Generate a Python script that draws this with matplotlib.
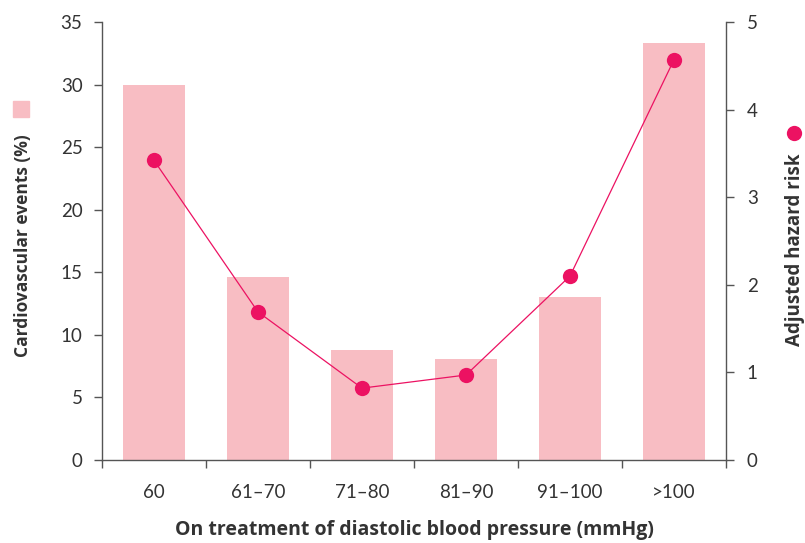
import matplotlib
matplotlib.use("Agg")
import matplotlib.pyplot as plt
from matplotlib.ticker import FixedLocator, NullFormatter

plt.rcParams['font.family'] = ['Lato', 'DejaVu Sans']

categories = ["60", "61\u201370", "71\u201380", "81\u201390", "91\u2013100", ">100"]
events_pct = [30.0, 14.6, 8.8, 8.1, 13.0, 33.3]
hazard_risk = [3.42, 1.69, 0.82, 0.97, 2.10, 4.57]

bar_color = "#F8BDC3"
dot_color = "#EC1262"
axis_color = "#555555"
text_color = "#333333"
bold_font = ['Open Sans', 'DejaVu Sans']

fig = plt.figure(figsize=(8.05, 5.43), dpi=100)
ax = fig.add_axes([0.1267, 0.1529, 0.9019 - 0.1267, 0.9595 - 0.1529])
x = list(range(len(categories)))

ax.bar(x, events_pct, width=0.59, color=bar_color, zorder=1)
ax.set_xlim(-0.5, len(categories) - 0.5)
ax.set_ylim(0, 35)
ax.set_yticks([0, 5, 10, 15, 20, 25, 30, 35])

ax2 = ax.twinx()
ax2.plot(x, hazard_risk, color=dot_color, linewidth=0.9, marker="o",
         markersize=11, markeredgewidth=0, zorder=3)
ax2.set_ylim(0, 5)
ax2.set_yticks([0, 1, 2, 3, 4, 5])

# category labels centred, tick marks on the boundaries
ax.set_xticks(x)
ax.set_xticklabels(categories)
ax.tick_params(axis="x", which="major", length=0, pad=17, labelsize=13.5, labelcolor=text_color)
ax.xaxis.set_minor_locator(FixedLocator([i - 0.5 for i in range(len(categories) + 1)]))
ax.xaxis.set_minor_formatter(NullFormatter())
ax.tick_params(axis="x", which="minor", length=6, width=1, color=axis_color, direction="out")

ax.tick_params(axis="y", length=6, width=1, color=axis_color, pad=8, labelsize=13.5, labelcolor=text_color)
ax2.tick_params(axis="y", length=6, width=1, color=axis_color, pad=9, labelsize=13.5, labelcolor=text_color)

for a in (ax, ax2):
    a.spines["top"].set_visible(False)
    for s in ("left", "right", "bottom"):
        a.spines[s].set_color(axis_color)
        a.spines[s].set_linewidth(1)
ax.spines["right"].set_visible(False)
ax2.spines["left"].set_visible(False)
ax2.spines["bottom"].set_visible(False)

fig.text(414 / 805, 1 - 530 / 543, "On treatment of diastolic blood pressure (mmHg)",
         ha="center", va="center", fontsize=14, fontweight="bold", color=text_color,
         family=bold_font)

# left legend-style label
fig.text(23 / 805, 1 - 246 / 543, "Cardiovascular events (%)", rotation=90,
         ha="center", va="center", fontsize=12.5, fontweight="bold", color=text_color,
         family=bold_font)
fig.patches.append(plt.Rectangle((13 / 805, 1 - 117 / 543), 16 / 805, 16 / 543,
                                 transform=fig.transFigure, color=bar_color, figure=fig))

# right legend-style label
fig.text(795 / 805, 1 - 250 / 543, "Adjusted hazard risk", rotation=90,
         ha="center", va="center", fontsize=13.5, fontweight="bold", color=text_color,
         family=bold_font)
fig.lines.append(plt.Line2D([794 / 805], [1 - 133 / 543], marker="o", markersize=11,
                            markeredgewidth=0, color=dot_color,
                            transform=fig.transFigure, figure=fig))

fig.savefig("out.png", dpi=100)
